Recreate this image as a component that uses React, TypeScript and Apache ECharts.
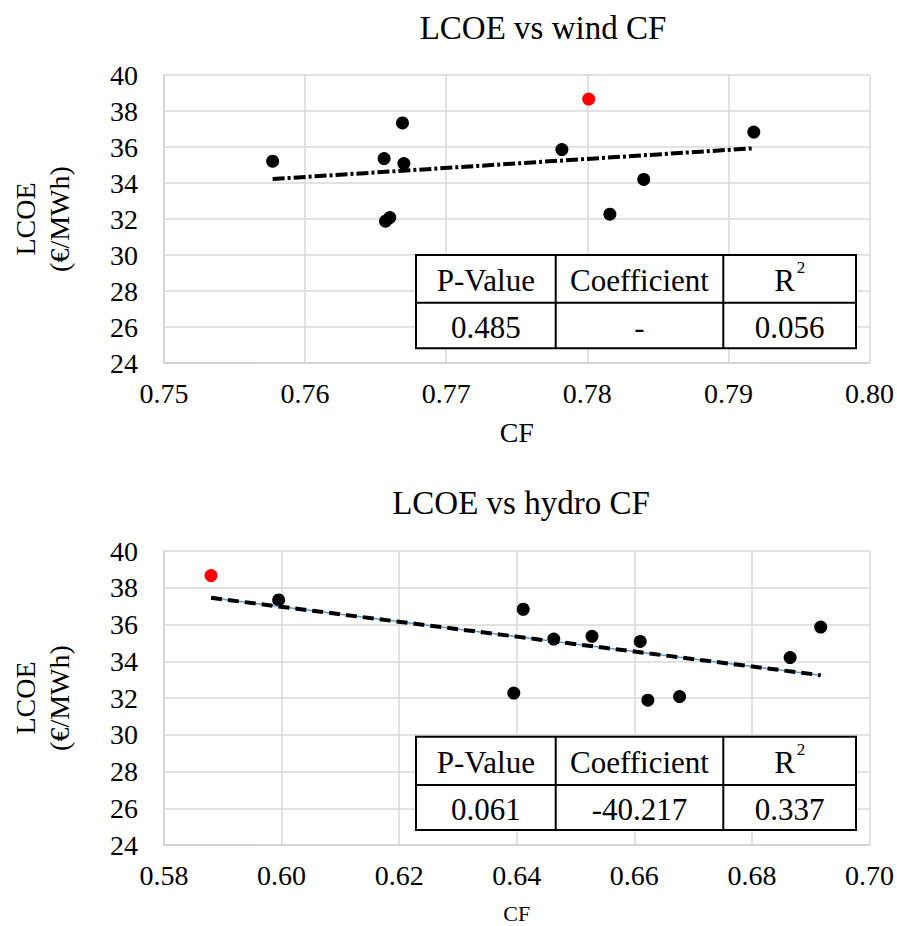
import React, { useEffect, useRef } from "react";
import * as echarts from "echarts";

// ---- data ----
// each index is one case; same LCOE in both panels
const siteLCOE = [35.21, 35.36, 31.88, 32.08, 37.34, 35.08, 35.86, 32.27, 34.2, 36.83];
const windCF = [0.7577, 0.7656, 0.7657, 0.766, 0.7669, 0.767, 0.7782, 0.7816, 0.784, 0.7918];
const hydroCF = [0.6463, 0.6528, 0.6623, 0.6677, 0.5995, 0.661, 0.6917, 0.6395, 0.6865, 0.6411];

// highlighted (red) case
const highlightLCOE = [38.66];
const highlightWindCF = [0.7801];
const highlightHydroCF = [0.588];

// linear trend lines (end points)
const windTrendCF = [0.7577, 0.7918];
const windTrendLCOE = [34.22, 35.93];
const hydroTrendCF = [0.588, 0.6917];
const hydroTrendLCOE = [37.45, 33.24];

// axes
const lcoeTicks = [24, 26, 28, 30, 32, 34, 36, 38, 40];
const windTicks = [0.75, 0.76, 0.77, 0.78, 0.79, 0.8];
const hydroTicks = [0.58, 0.6, 0.62, 0.64, 0.66, 0.68, 0.7];

// titles / tables
const titles = ["LCOE vs wind CF", "LCOE vs hydro CF"];
const tableHeaders = ["P-Value", "Coefficient", "R"];
const windStats = ["0.485", "-", "0.056"];
const hydroStats = ["0.061", "-40.217", "0.337"];

const FONT = '"Liberation Serif", "Times New Roman", serif';

function makeTable(x: number, y: number, colW: number[], rowH: number[], values: string[]) {
  const els: any[] = [];
  const totalW = colW.reduce((a, b) => a + b, 0);
  const totalH = rowH[0] + rowH[1];
  els.push({
    type: "rect",
    z: 100,
    shape: { x, y, width: totalW, height: totalH },
    style: { fill: "#fff", stroke: "#000", lineWidth: 2 },
  });
  els.push({
    type: "line",
    z: 101,
    shape: { x1: x, y1: y + rowH[0], x2: x + totalW, y2: y + rowH[0] },
    style: { stroke: "#000", lineWidth: 2 },
  });
  let cx = x;
  const centers: number[] = [];
  colW.forEach((w, i) => {
    centers.push(cx + w / 2);
    cx += w;
    if (i < colW.length - 1) {
      els.push({
        type: "line",
        z: 101,
        shape: { x1: cx, y1: y, x2: cx, y2: y + totalH },
        style: { stroke: "#000", lineWidth: 2 },
      });
    }
  });
  const r1 = y + rowH[0] / 2 + 2;
  const r2 = y + rowH[0] + rowH[1] / 2 + 2;
  tableHeaders.forEach((h, i) => {
    els.push({
      type: "text",
      z: 102,
      x: i === 2 ? centers[i] - 5 : centers[i],
      y: r1,
      style: {
        text: h,
        fontSize: 31,
        fontFamily: FONT,
        fill: "#000",
        align: "center",
        verticalAlign: "middle",
      },
    });
  });
  els.push({
    type: "text",
    z: 102,
    x: centers[2] + 7,
    y: r1 - 13,
    style: { text: "2", fontSize: 17, fontFamily: FONT, fill: "#000", align: "left", verticalAlign: "middle" },
  });
  values.forEach((v, i) => {
    els.push({
      type: "text",
      z: 102,
      x: centers[i],
      y: r2,
      style: {
        text: v,
        fontSize: 31,
        fontFamily: FONT,
        fill: "#000",
        align: "center",
        verticalAlign: "middle",
      },
    });
  });
  return els;
}

function xAxisFor(gridIndex: number, ticks: number[], nameGap: number, nameSize: number) {
  return {
    type: "value",
    gridIndex,
    min: ticks[0],
    max: ticks[ticks.length - 1],
    interval: Math.round((ticks[1] - ticks[0]) * 1000) / 1000,
    name: "CF",
    nameLocation: "middle",
    nameGap,
    nameTextStyle: { fontSize: nameSize, fontFamily: FONT, color: "#000" },
    axisLine: { show: true, onZero: false, lineStyle: { color: "#d0d0d0", width: 1.5 } },
    axisTick: { show: false },
    axisLabel: {
      fontSize: 28,
      fontFamily: FONT,
      color: "#000",
      margin: 16,
      formatter: (v: number) => v.toFixed(2),
    },
    splitLine: { show: true, lineStyle: { color: "#d9d9d9", width: 1.5 } },
  };
}

function yAxisFor(gridIndex: number) {
  return {
    type: "value",
    gridIndex,
    min: lcoeTicks[0],
    max: lcoeTicks[lcoeTicks.length - 1],
    interval: lcoeTicks[1] - lcoeTicks[0],
    name: "LCOE\n(€/MWh)",
    nameLocation: "middle",
    nameGap: 88,
    nameTextStyle: { fontSize: 28, fontFamily: FONT, color: "#000", lineHeight: 34 },
    axisLine: { show: true, onZero: false, lineStyle: { color: "#d0d0d0", width: 1.5 } },
    axisTick: { show: false },
    axisLabel: { fontSize: 28, fontFamily: FONT, color: "#000", margin: 26 },
    splitLine: { show: true, lineStyle: { color: "#d9d9d9", width: 1.5 } },
  };
}

export default function App() {
  const ref = useRef<HTMLDivElement>(null);
  useEffect(() => {
    if (!ref.current) return;
    const chart = echarts.init(ref.current, null, { renderer: "svg" });
    const option: any = {
      animation: false,
      backgroundColor: "#fff",
      title: [
        {
          text: titles[0],
          left: 538,
          top: 6,
          textAlign: "center",
          textStyle: { fontSize: 33, fontWeight: "normal", fontFamily: FONT, color: "#000" },
        },
        {
          text: titles[1],
          left: 516,
          top: 481,
          textAlign: "center",
          textStyle: { fontSize: 33, fontWeight: "normal", fontFamily: FONT, color: "#000" },
        },
      ],
      grid: [
        { left: 163, top: 75, width: 708, height: 288 },
        { left: 163, top: 551, width: 708, height: 294 },
      ],
      xAxis: [xAxisFor(0, windTicks, 55, 28), xAxisFor(1, hydroTicks, 57, 22)],
      yAxis: [yAxisFor(0), yAxisFor(1)],
      series: [
        {
          type: "scatter",
          xAxisIndex: 0,
          yAxisIndex: 0,
          symbolSize: 13,
          itemStyle: { color: "#000", opacity: 1 },
          data: windCF.map((c, i) => [c, siteLCOE[i]]),
        },
        {
          type: "scatter",
          xAxisIndex: 0,
          yAxisIndex: 0,
          symbolSize: 13,
          itemStyle: { color: "#ff0000", opacity: 1 },
          data: highlightWindCF.map((c, i) => [c, highlightLCOE[i]]),
        },
        {
          type: "line",
          xAxisIndex: 0,
          yAxisIndex: 0,
          showSymbol: false,
          silent: true,
          lineStyle: { color: "#000", width: 4, type: [12, 3, 3, 3] },
          data: windTrendCF.map((c, i) => [c, windTrendLCOE[i]]),
        },
        {
          type: "scatter",
          xAxisIndex: 1,
          yAxisIndex: 1,
          symbolSize: 13,
          itemStyle: { color: "#000", opacity: 1 },
          data: hydroCF.map((c, i) => [c, siteLCOE[i]]),
        },
        {
          type: "scatter",
          xAxisIndex: 1,
          yAxisIndex: 1,
          symbolSize: 13,
          itemStyle: { color: "#ff0000", opacity: 1 },
          data: highlightHydroCF.map((c, i) => [c, highlightLCOE[i]]),
        },
        {
          type: "line",
          xAxisIndex: 1,
          yAxisIndex: 1,
          showSymbol: false,
          silent: true,
          lineStyle: { color: "#5b9bd5", width: 1.5 },
          data: hydroTrendCF.map((c, i) => [c, hydroTrendLCOE[i]]),
        },
        {
          type: "line",
          xAxisIndex: 1,
          yAxisIndex: 1,
          showSymbol: false,
          silent: true,
          lineStyle: { color: "#000", width: 4, type: [11, 6] },
          data: hydroTrendCF.map((c, i) => [c, hydroTrendLCOE[i]]),
        },
      ],
      graphic: [
        ...makeTable(416, 255, [139.7, 167.6, 132.7], [47.7, 45.6], windStats),
        ...makeTable(416, 736.7, [139.7, 167.6, 132.7], [48.3, 45], hydroStats),
      ],
    };
    chart.setOption(option);
    return () => chart.dispose();
  }, []);
  return (
    <div
      ref={ref}
      style={{ position: "absolute", left: 0, top: 0, width: 897, height: 926, background: "#fff" }}
    />
  );
}
